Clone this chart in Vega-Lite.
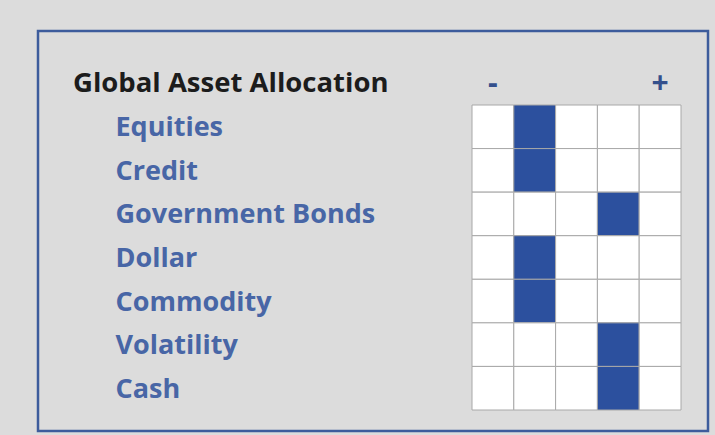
{
  "$schema": "https://vega.github.io/schema/vega-lite/v6.json",
  "width": 670,
  "height": 400,
  "autosize": {"type": "none"},
  "padding": {"left": 38, "top": 31, "right": 7, "bottom": 4},
  "background": "#dcdcdc",
  "config": {
    "view": {"fill": "#dcdcdc", "stroke": "#3d5c9c", "strokeWidth": 2.5}
  },
  "title": {
    "text": "Global Asset Allocation",
    "anchor": "start",
    "frame": "group",
    "orient": "top",
    "dx": 35,
    "offset": -88,
    "baseline": "alphabetic",
    "font": "Open Sans",
    "fontSize": 27.5,
    "fontWeight": "bold",
    "color": "#1c1c1c"
  },
  "data": {
    "values": [
      {"asset": "Equities", "col": 1, "filled": false},
      {"asset": "Equities", "col": 2, "filled": true},
      {"asset": "Equities", "col": 3, "filled": false},
      {"asset": "Equities", "col": 4, "filled": false},
      {"asset": "Equities", "col": 5, "filled": false},
      {"asset": "Credit", "col": 1, "filled": false},
      {"asset": "Credit", "col": 2, "filled": true},
      {"asset": "Credit", "col": 3, "filled": false},
      {"asset": "Credit", "col": 4, "filled": false},
      {"asset": "Credit", "col": 5, "filled": false},
      {"asset": "Government Bonds", "col": 1, "filled": false},
      {"asset": "Government Bonds", "col": 2, "filled": false},
      {"asset": "Government Bonds", "col": 3, "filled": false},
      {"asset": "Government Bonds", "col": 4, "filled": true},
      {"asset": "Government Bonds", "col": 5, "filled": false},
      {"asset": "Dollar", "col": 1, "filled": false},
      {"asset": "Dollar", "col": 2, "filled": true},
      {"asset": "Dollar", "col": 3, "filled": false},
      {"asset": "Dollar", "col": 4, "filled": false},
      {"asset": "Dollar", "col": 5, "filled": false},
      {"asset": "Commodity", "col": 1, "filled": false},
      {"asset": "Commodity", "col": 2, "filled": true},
      {"asset": "Commodity", "col": 3, "filled": false},
      {"asset": "Commodity", "col": 4, "filled": false},
      {"asset": "Commodity", "col": 5, "filled": false},
      {"asset": "Volatility", "col": 1, "filled": false},
      {"asset": "Volatility", "col": 2, "filled": false},
      {"asset": "Volatility", "col": 3, "filled": false},
      {"asset": "Volatility", "col": 4, "filled": true},
      {"asset": "Volatility", "col": 5, "filled": false},
      {"asset": "Cash", "col": 1, "filled": false},
      {"asset": "Cash", "col": 2, "filled": false},
      {"asset": "Cash", "col": 3, "filled": false},
      {"asset": "Cash", "col": 4, "filled": true},
      {"asset": "Cash", "col": 5, "filled": false}
    ]
  },
  "mark": {"type": "rect", "stroke": "#a8a8a8", "strokeWidth": 1},
  "encoding": {
    "x": {
      "field": "col",
      "type": "ordinal",
      "scale": {"domain": [1, 2, 3, 4, 5], "range": [434, 643], "paddingInner": 0, "paddingOuter": 0},
      "axis": {
        "orient": "top",
        "title": null,
        "domain": false,
        "ticks": false,
        "tickSize": 0,
        "grid": false,
        "labelAngle": 0,
        "labelExpr": "datum.value == 1 ? '-' : (datum.value == 5 ? '+' : '')",
        "labelPadding": -52,
        "labelBaseline": "middle",
        "labelFont": "Open Sans",
        "labelFontSize": 30,
        "labelFontWeight": "bold",
        "labelColor": "#34508c"
      }
    },
    "y": {
      "field": "asset",
      "type": "nominal",
      "scale": {
        "domain": ["Equities", "Credit", "Government Bonds", "Dollar", "Commodity", "Volatility", "Cash"],
        "range": [74, 379],
        "paddingInner": 0,
        "paddingOuter": 0
      },
      "axis": {
        "orient": "left",
        "title": null,
        "domain": false,
        "ticks": false,
        "tickSize": 0,
        "grid": false,
        "labelAlign": "left",
        "labelBaseline": "middle",
        "labelPadding": -77,
        "labelOffset": 1.5,
        "labelLimit": 500,
        "labelFont": "Open Sans",
        "labelFontSize": 27,
        "labelFontWeight": "bold",
        "labelColor": "#4866a6"
      }
    },
    "fill": {
      "field": "filled",
      "type": "nominal",
      "scale": {"domain": [true, false], "range": ["#2c509e", "#ffffff"]},
      "legend": null
    }
  }
}
